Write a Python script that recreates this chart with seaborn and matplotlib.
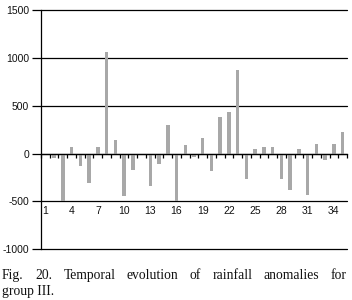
import numpy as np
import pandas as pd
import matplotlib
matplotlib.use("Agg")
import matplotlib.pyplot as plt
import seaborn as sns

# rainfall anomalies, group III
years = list(range(1, 36))
anomalies = [-20, -45, -495, 70, -130, -310, 70, 1060, 140, -445,
             -175, -20, -335, -110, 295, -500, 90, -40, 160, -180,
             385, 430, 875, -270, 50, 70, 70, -270, -380, 50,
             -430, 95, -65, 95, 230]
label_years = [1, 4, 7, 10, 13, 16, 19, 22, 25, 28, 31, 34]
y_ticks = [-1000, -500, 0, 500, 1000, 1500]
caption_1 = "Fig. 20. Temporal evolution of rainfall anomalies for"
caption_2 = "group III."

df = pd.DataFrame({"year": years, "anomaly": anomalies})

sns.set_style("white")
plt.rcParams["font.family"] = ["Liberation Sans", "DejaVu Sans"]

fig = plt.figure(figsize=(3.52, 3.0), dpi=100)
ax = fig.add_axes([41 / 352, 1 - 249 / 300, 306 / 352, (249 - 10.3) / 300])

sns.barplot(data=df, x="year", y="anomaly", color="#a8a8a8", saturation=1,
            width=0.4, linewidth=0, errorbar=None, ax=ax)

ax.set_xlim(-0.5, len(years) - 0.5)
ax.set_ylim(-1000, 1500)
ax.set_yticks(y_ticks)
ax.set_yticklabels([str(v) for v in y_ticks])
ax.grid(axis="y", color="black", linewidth=0.9)
ax.grid(axis="x", visible=False)
ax.set_axisbelow(True)
for line in ax.get_ygridlines():
    line.set_clip_on(False)

for side in ["top", "right"]:
    ax.spines[side].set_visible(False)
ax.spines["left"].set_color("black")
ax.spines["left"].set_linewidth(0.9)
ax.spines["bottom"].set_position(("data", 0))
ax.spines["bottom"].set_color("black")
ax.spines["bottom"].set_linewidth(0.9)

# category labels sit well below the zero line, boundary ticks on it
ax.set_xticks([years.index(y) for y in label_years])
ax.set_xticklabels([str(y) for y in label_years])
ax.set_xticks(np.arange(-0.5, len(years), 1.0), minor=True)
ax.tick_params(axis="x", which="major", length=0, pad=38, labelsize=7.5,
               labelcolor="#111111")
ax.tick_params(axis="x", which="minor", bottom=True, length=3, width=0.9,
               color="black", direction="out")
ax.tick_params(axis="y", length=6.5, width=0.9, color="black", left=True,
               pad=2, labelsize=7.5, labelcolor="#111111")
ax.set_xlabel("")
ax.set_ylabel("")

# caption, first line justified across the figure width
cap_font = ["Liberation Serif", "DejaVu Serif"]
left_px, right_px = 2, 347
renderer = fig.canvas.get_renderer()
words = caption_1.split(" ")
widths = []
for w in words:
    t = fig.text(0, 0, w, family=cap_font, fontsize=9.8)
    widths.append(t.get_window_extent(renderer).width)
    t.remove()
gap = (right_px - left_px - sum(widths)) / (len(words) - 1)
x = left_px
for w, wd in zip(words, widths):
    fig.text(x / 352, 1 - 279 / 300, w, family=cap_font, fontsize=9.8,
             ha="left", va="baseline", color="#111111")
    x += wd + gap
fig.text(left_px / 352, 1 - 295 / 300, caption_2,
         family=cap_font, fontsize=9.8, ha="left", va="baseline",
         color="#111111")

fig.savefig("out.png", dpi=100)
